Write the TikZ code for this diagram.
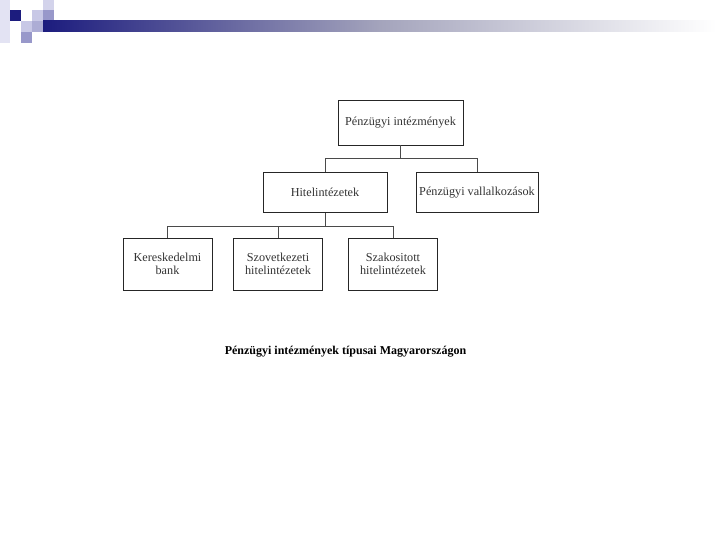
\documentclass[tikz,border=0pt]{standalone}
\usepackage{fontspec}
\setmainfont{Liberation Serif}
\definecolor{navy}{HTML}{1C1C7E}
\definecolor{lila}{HTML}{C8C8E6}
\definecolor{lilab}{HTML}{9898CA}
\definecolor{balkengrau}{HTML}{A4A4BC}
\definecolor{linie}{HTML}{4A4A4A}
\tikzset{
	kasten/.style={draw=black!85, line width=0.8pt, minimum height=40, text=black!80,
		align=center, inner sep=2pt, font=\fontsize{12.2}{13.5}\selectfont},
	verbindung/.style={draw=linie, line width=0.8pt}
}
\begin{document}
\begin{tikzpicture}[x=1pt,y=-1pt]
	\useasboundingbox (0,0) rectangle (720,540);
	% Kopfleiste
	\fill[lila!50] (0,0) rectangle (10,43);
	\fill[navy] (10,10) rectangle (21,21);
	\fill[lila] (32,10) rectangle (43,21);
	\fill[lila!80] (43,0) rectangle (54,10);
	\fill[lilab] (43,10) rectangle (54,21);
	\fill[lila] (21,21) rectangle (32,32);
	\fill[lilab!80] (32,21) rectangle (43,32);
	\fill[lilab] (21,32) rectangle (32,43);
	\shade[left color=navy, right color=balkengrau] (43,21) rectangle (380,32);
	\shade[left color=balkengrau, right color=white] (380,21) rectangle (716,32);
	% Kästen
	\node[kasten, minimum width=125, minimum height=45] (penz) at (400.5,122.5) {Pénzügyi intézmények};
	\node[kasten, minimum width=124] (hitel) at (325,192.5) {Hitelintézetek};
	\node[kasten, minimum width=122] (vallal) at (477,192.5) {Pénzügyi vallalkozások};
	\node[kasten, minimum width=89, minimum height=52] (bank) at (167.5,264) {Kereskedelmi\\bank};
	\node[kasten, minimum width=89, minimum height=52] (szov) at (278,264) {Szovetkezeti\\hitelintézetek};
	\node[kasten, minimum width=89, minimum height=52] (szak) at (393,264) {Szakositott\\hitelintézetek};
	% Linien
	\draw[verbindung] (penz.south) -- ++(0,13.5);
	\draw[verbindung] (hitel.north) -- ++(0,-14) -| (vallal.north);
	\draw[verbindung] (hitel.south) -- ++(0,14.5);
	\draw[verbindung] (bank.north) -- ++(0,-11) -| (szak.north);
	\draw[verbindung] (szov.north) -- ++(0,-11);
	% Bildunterschrift
	\node[font=\bfseries\fontsize{12}{12}\selectfont] (titel) at (345.5,352) {Pénzügyi intézmények típusai Magyarországon};
\end{tikzpicture}
\end{document}
